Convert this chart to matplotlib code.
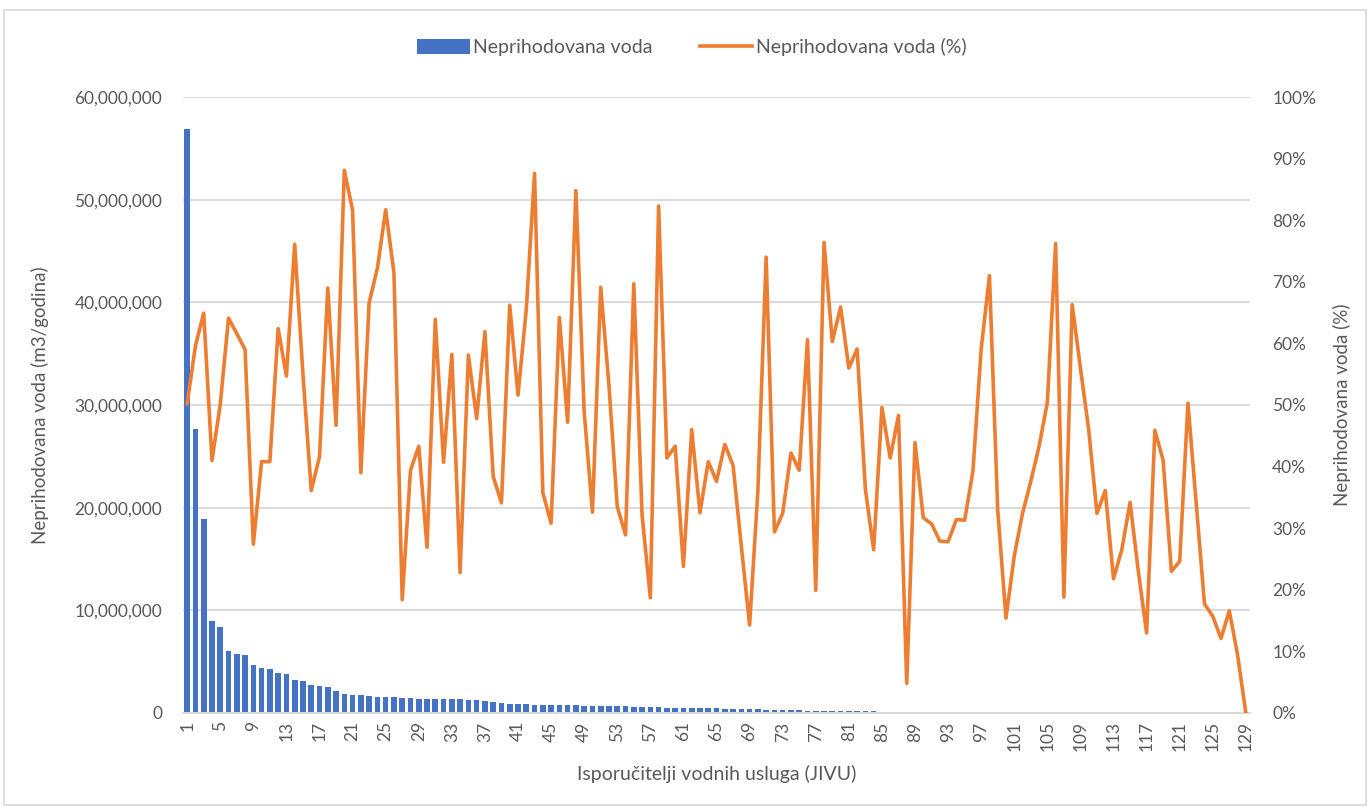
import numpy as np
import matplotlib
matplotlib.use("Agg")
import matplotlib.pyplot as plt
from matplotlib.ticker import FuncFormatter, PercentFormatter
from matplotlib.patches import Rectangle

# supplier index 1..129
suppliers = list(range(1, 130))

# unbilled water volume (million m3 per year)
volume_mil = [
    56.9, 27.7, 18.9, 8.95, 8.35, 6.08, 5.77, 5.68, 4.68, 4.38,
    4.28, 3.88, 3.80, 3.23, 3.10, 2.72, 2.58, 2.50, 2.17, 1.88,
    1.80, 1.74, 1.62, 1.60, 1.58, 1.53, 1.49, 1.45, 1.41, 1.40,
    1.37, 1.34, 1.33, 1.32, 1.28, 1.23, 1.17, 1.07, 0.98, 0.92,
    0.91, 0.88, 0.80, 0.79, 0.78, 0.77, 0.75, 0.74, 0.72, 0.71,
    0.70, 0.69, 0.67, 0.65, 0.59, 0.58, 0.57, 0.55, 0.52, 0.50,
    0.49, 0.48, 0.47, 0.46, 0.45, 0.43, 0.42, 0.41, 0.36, 0.34,
    0.33, 0.30, 0.28, 0.26, 0.25, 0.24, 0.23, 0.21, 0.20, 0.19,
    0.18, 0.17, 0.16, 0.15, 0.14, 0.13, 0.12, 0.11, 0.105, 0.10,
    0.095, 0.09, 0.085, 0.08, 0.075, 0.07, 0.065, 0.06, 0.055, 0.05,
    0.045, 0.04, 0.035, 0.03, 0.025, 0.02, 0.018, 0.015, 0.012, 0.010,
    0.009, 0.008, 0.007, 0.006, 0.005, 0.005, 0.004, 0.004, 0.003, 0.003,
    0.002, 0.002, 0.002, 0.001, 0.001, 0.001, 0.001, 0.0005, 0.0002,
]

# unbilled water share (%)
share_pct = [
    50.2, 59.6, 64.9, 41.0, 50.1, 64.1, 61.6, 59.0, 27.4, 40.8,
    40.8, 62.4, 54.7, 76.1, 55.0, 36.1, 41.6, 69.0, 46.7, 88.1,
    81.6, 39.0, 66.6, 72.2, 81.7, 71.5, 18.4, 39.4, 43.3, 26.9,
    63.9, 40.7, 58.2, 22.8, 58.1, 47.8, 61.9, 38.4, 34.1, 66.2,
    51.6, 65.5, 87.6, 35.8, 30.8, 64.2, 47.2, 84.8, 48.9, 32.6,
    69.1, 53.1, 33.5, 28.9, 69.7, 32.1, 18.7, 82.3, 41.4, 43.3,
    23.8, 46.0, 32.5, 40.8, 37.6, 43.6, 40.2, 27.1, 14.3, 36.0,
    74.0, 29.4, 32.4, 42.2, 39.4, 60.6, 19.9, 76.4, 60.3, 65.9,
    56.0, 59.1, 36.3, 26.5, 49.6, 41.4, 48.3, 4.8, 43.9, 31.7,
    30.7, 27.9, 27.8, 31.4, 31.3, 39.2, 59.1, 71.0, 32.9, 15.4,
    25.5, 32.4, 37.6, 43.3, 50.4, 76.2, 18.8, 66.3, 56.0, 46.0,
    32.4, 36.1, 21.8, 26.5, 34.2, 23.0, 13.0, 45.9, 41.0, 23.0,
    24.6, 50.3, 33.9, 17.7, 15.7, 12.1, 16.6, 9.4, 0.0,
]

x_ticks = list(range(1, 130, 4))

BLUE = "#4472C4"
ORANGE = "#ED7D31"
GREY_TXT = "#595959"
GRID = "#D9D9D9"

plt.rcParams['font.family'] = ['Lato', 'DejaVu Sans']

fig = plt.figure(figsize=(13.7, 8.07), dpi=100)
fig.patches.append(Rectangle((0.003, 0.002), 0.994, 0.985, transform=fig.transFigure,
                             fill=False, edgecolor=GRID, linewidth=1.2))

ax = fig.add_axes([0.1336, 0.1165, 0.7788, 0.7633])
ax2 = ax.twinx()

vol = np.array(volume_mil) * 1e6
ax.bar(suppliers, vol, width=0.68, color=BLUE, zorder=2, label="Neprihodovana voda")
ax2.plot(suppliers, share_pct, color=ORANGE, lw=2.6, solid_joinstyle='round',
         label="Neprihodovana voda (%)", zorder=3)

ax.set_xlim(0.5, 129.5)
ax.set_ylim(0, 60e6)
ax.set_yticks(np.arange(0, 60e6 + 1, 10e6))
ax.yaxis.set_major_formatter(FuncFormatter(lambda v, p: f"{int(v):,}"))
ax2.set_ylim(0, 100)
ax2.set_yticks(np.arange(0, 101, 10))
ax2.yaxis.set_major_formatter(PercentFormatter(decimals=0))

ax.set_xticks(x_ticks)
ax.set_xticklabels([str(t) for t in x_ticks], rotation=90)

ax.grid(axis='y', color=GRID, lw=1.3, zorder=0)
ax.set_axisbelow(True)
for a in (ax, ax2):
    for s in ('top', 'left', 'right'):
        a.spines[s].set_visible(False)
    a.spines['bottom'].set_color(GRID)
    a.spines['bottom'].set_linewidth(1.3)
    a.tick_params(length=0, colors=GREY_TXT, labelsize=12.5)
ax.tick_params(axis='y', pad=15)
ax2.tick_params(axis='y', pad=16)
ax.tick_params(axis='x', pad=6)

ax.set_ylabel("Neprihodovana voda (m3/godina)", color=GREY_TXT, fontsize=13.5, labelpad=18)
ax2.set_ylabel("Neprihodovana voda (%)", color=GREY_TXT, fontsize=13.5, rotation=90, labelpad=12)
ax.set_xlabel("Isporučitelji vodnih usluga (JIVU)", color=GREY_TXT, fontsize=14, labelpad=10)

h1, l1 = ax.get_legend_handles_labels()
h2, l2 = ax2.get_legend_handles_labels()
leg = fig.legend(h1 + h2, l1 + l2, loc='center', bbox_to_anchor=(0.505, 0.942), ncol=2,
                 frameon=False, fontsize=14, handlelength=2.7, handleheight=0.8,
                 columnspacing=2.4, handletextpad=0.2)
for t in leg.get_texts():
    t.set_color(GREY_TXT)

fig.savefig("out.png", dpi=100)
